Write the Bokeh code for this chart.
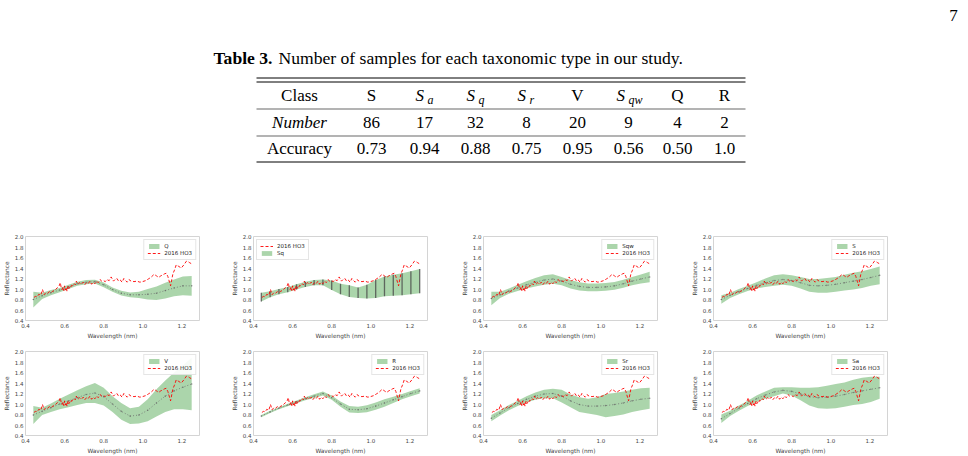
from bokeh.plotting import figure
from bokeh.layouts import column, row
from bokeh.models import Range1d, FixedTicker, PrintfTickFormatter, Legend, LegendItem
from bokeh.core.properties import value
from bokeh.embed import file_html
from bokeh.resources import INLINE

# ---------------- table data ----------------
CLASSES = ["S", "Sa", "Sq", "Sr", "V", "Sqw", "Q", "R"]
NUMBERS = [86, 17, 32, 8, 20, 9, 4, 2]
ACCURACY = [0.73, 0.94, 0.88, 0.75, 0.95, 0.56, 0.50, 1.0]
ACCURACY_LABELS = ["0.73", "0.94", "0.88", "0.75", "0.95", "0.56", "0.50", "1.0"]

# ---------------- spectra data ----------------
WL = [0.44, 0.485, 0.53, 0.575, 0.62, 0.665, 0.71, 0.755, 0.80, 0.845,
      0.89, 0.935, 0.98, 1.025, 1.07, 1.115, 1.16, 1.205, 1.25]

Q_MEAN = [0.80, 0.87, 0.93, 0.98, 1.04, 1.10, 1.13, 1.14, 1.08, 0.99, 0.92, 0.89, 0.89, 0.90, 0.92, 0.97, 1.02, 1.06, 1.06]
Q_STD = [0.15, 0.06, 0.05, 0.04, 0.04, 0.04, 0.04, 0.035, 0.045, 0.04, 0.045, 0.045, 0.06, 0.10, 0.13, 0.15, 0.16, 0.18, 0.19]

SQ_MEAN = [0.845, 0.90, 0.95, 0.99, 1.04, 1.09, 1.12, 1.125, 1.07, 1.00, 0.96, 0.93, 0.95, 1.00, 1.05, 1.07, 1.09, 1.12, 1.15]
SQ_STD = [0.085, 0.055, 0.05, 0.05, 0.05, 0.05, 0.05, 0.055, 0.09, 0.10, 0.11, 0.10, 0.13, 0.17, 0.19, 0.20, 0.21, 0.22, 0.23]

SQW_MEAN = [0.82, 0.89, 0.96, 1.02, 1.08, 1.13, 1.17, 1.19, 1.15, 1.09, 1.05, 1.03, 1.03, 1.04, 1.06, 1.10, 1.15, 1.19, 1.23]
SQW_STD = [0.13, 0.06, 0.05, 0.06, 0.07, 0.08, 0.09, 0.09, 0.08, 0.08, 0.08, 0.075, 0.075, 0.075, 0.075, 0.075, 0.08, 0.085, 0.10]

S_MEAN = [0.80, 0.88, 0.95, 1.01, 1.07, 1.12, 1.16, 1.18, 1.16, 1.12, 1.07, 1.06, 1.07, 1.09, 1.12, 1.15, 1.18, 1.22, 1.26]
S_STD = [0.08, 0.05, 0.05, 0.05, 0.06, 0.08, 0.10, 0.10, 0.10, 0.11, 0.12, 0.13, 0.14, 0.14, 0.15, 0.16, 0.16, 0.16, 0.17]

V_MEAN = [0.79, 0.86, 0.93, 1.00, 1.06, 1.12, 1.18, 1.21, 1.14, 1.00, 0.86, 0.77, 0.79, 0.88, 1.02, 1.15, 1.25, 1.32, 1.38]
V_STD = [0.17, 0.07, 0.08, 0.10, 0.12, 0.14, 0.16, 0.19, 0.17, 0.15, 0.16, 0.15, 0.16, 0.21, 0.26, 0.30, 0.35, 0.42, 0.50]

R_MEAN = [0.77, 0.85, 0.92, 0.98, 1.04, 1.10, 1.15, 1.20, 1.12, 1.00, 0.90, 0.89, 0.91, 0.96, 1.02, 1.08, 1.14, 1.20, 1.25]
R_STD = [0.02, 0.02, 0.02, 0.025, 0.025, 0.03, 0.035, 0.04, 0.04, 0.05, 0.06, 0.06, 0.065, 0.07, 0.07, 0.06, 0.05, 0.05, 0.05]

SR_MEAN = [0.73, 0.83, 0.93, 1.01, 1.09, 1.15, 1.19, 1.20, 1.15, 1.06, 0.99, 0.96, 0.96, 0.97, 0.99, 1.02, 1.06, 1.09, 1.11]
SR_STD = [0.06, 0.05, 0.05, 0.05, 0.06, 0.07, 0.08, 0.09, 0.12, 0.12, 0.14, 0.14, 0.17, 0.22, 0.22, 0.22, 0.21, 0.21, 0.20]

SA_MEAN = [0.72, 0.82, 0.92, 1.01, 1.10, 1.17, 1.23, 1.26, 1.24, 1.19, 1.14, 1.12, 1.13, 1.15, 1.18, 1.22, 1.25, 1.28, 1.31]
SA_STD = [0.08, 0.05, 0.05, 0.05, 0.06, 0.07, 0.08, 0.06, 0.08, 0.12, 0.17, 0.20, 0.22, 0.23, 0.23, 0.24, 0.25, 0.24, 0.21]

HO3_WL = [0.443, 0.452, 0.46, 0.468, 0.478, 0.487, 0.495, 0.504, 0.513, 0.522, 0.53, 0.54, 0.548,
          0.556, 0.565, 0.572, 0.578, 0.583, 0.587, 0.592, 0.596, 0.6, 0.604, 0.608, 0.612, 0.617,
          0.621, 0.625, 0.63, 0.636, 0.643, 0.65, 0.655, 0.66, 0.668, 0.677, 0.686, 0.695, 0.703,
          0.712, 0.72, 0.73, 0.738, 0.747, 0.755, 0.764, 0.772, 0.781, 0.79, 0.799, 0.808, 0.816,
          0.828, 0.838, 0.85, 0.858, 0.868, 0.876, 0.885, 0.894, 0.903, 0.912, 0.92, 0.929, 0.94,
          0.955, 0.97, 0.985, 0.998, 1.015, 1.028, 1.041, 1.058, 1.07, 1.081, 1.092, 1.102, 1.112,
          1.12, 1.128, 1.142, 1.154, 1.162, 1.171, 1.184, 1.197, 1.21, 1.223, 1.232, 1.24, 1.254]
HO3_R = [0.84, 0.86, 0.85, 0.90, 0.88, 0.99, 0.89, 0.93, 0.92, 0.95, 0.93, 0.96, 0.97,
         1.00, 1.03, 1.06, 1.12, 1.02, 0.99, 1.04, 0.97, 1.06, 0.98, 1.03, 0.96, 1.05,
         1.00, 1.04, 1.02, 1.07, 1.06, 1.10, 1.08, 1.15, 1.09, 1.12, 1.09, 1.13, 1.08,
         1.12, 1.10, 1.15, 1.09, 1.13, 1.10, 1.15, 1.12, 1.18, 1.15, 1.16, 1.14, 1.18,
         1.16, 1.23, 1.15, 1.18, 1.20, 1.15, 1.17, 1.13, 1.20, 1.16, 1.13, 1.18, 1.15,
         1.14, 1.15, 1.13, 1.14, 1.16, 1.19, 1.22, 1.28, 1.25, 1.22, 1.25, 1.27, 1.29,
         1.30, 1.24, 1.06, 1.29, 1.36, 1.46, 1.43, 1.40, 1.46, 1.53, 1.52, 1.50, 1.47]

X_TICKS = [0.4, 0.6, 0.8, 1.0, 1.2]
Y_TICKS = [0.4, 0.6, 0.8, 1.0, 1.2, 1.4, 1.6, 1.8, 2.0]

SERIF = "Liberation Serif"
SANS = "DejaVu Sans"

# ---------------- top part: page number, caption, table ----------------
TOP_H = 226
top = figure(width=968, height=TOP_H, x_range=Range1d(0, 968), y_range=Range1d(TOP_H, 0),
             output_backend="svg", toolbar_location=None, min_border=0,
             x_axis_location=None, y_axis_location=None)
top.grid.visible = False
top.outline_line_color = None

top.text(x=[953], y=[15], text=["7"], text_font=value(SERIF), text_font_size="17px",
         text_align="center", text_baseline="middle", text_color="black")

CAP_FS = "17.6px"
top.text(x=[213], y=[57], text=["Table 3."], text_font=value(SERIF), text_font_size=CAP_FS,
         text_font_style="bold", text_align="left", text_baseline="middle", text_color="black")
top.text(x=[278], y=[57], text=["Number of samples for each taxonomic type in our study."],
         text_font=value(SERIF), text_font_size=CAP_FS, text_align="left",
         text_baseline="middle", text_color="black")

T_LEFT, T_RIGHT = 256, 745
top.segment(x0=[T_LEFT, T_LEFT], y0=[77.5, 81.5], x1=[T_RIGHT, T_RIGHT], y1=[77.5, 81.5],
            line_color="black", line_width=1.0)
top.segment(x0=[T_LEFT, T_LEFT], y0=[108.5, 135.5], x1=[T_RIGHT, T_RIGHT], y1=[108.5, 135.5],
            line_color="black", line_width=0.6)
top.segment(x0=[T_LEFT], y0=[161.5], x1=[T_RIGHT], y1=[161.5], line_color="black", line_width=1.0)

LABEL_X = 299
COL_X = [371, 424, 475, 526, 577, 628, 677, 724]
ROW_Y = [95, 122, 148]
FS = "17px"

top.text(x=[LABEL_X], y=[ROW_Y[0]], text=["Class"], text_font=value(SERIF), text_font_size=FS,
         text_align="center", text_baseline="middle")
top.text(x=[LABEL_X], y=[ROW_Y[1]], text=["Number"], text_font=value(SERIF), text_font_size=FS,
         text_font_style="italic", text_align="center", text_baseline="middle")
top.text(x=[LABEL_X], y=[ROW_Y[2]], text=["Accuracy"], text_font=value(SERIF), text_font_size=FS,
         text_align="center", text_baseline="middle")

plain_x, plain_t = [], []
ital_x, ital_t = [], []
sub_x, sub_t = [], []
for cx, name in zip(COL_X, CLASSES):
    if len(name) == 1:
        plain_x.append(cx)
        plain_t.append(name)
    else:
        sub = name[1:]
        total = 10 + 2 + 6 * len(sub)
        start = cx - total / 2
        ital_x.append(start)
        ital_t.append(name[0])
        sub_x.append(start + 12)
        sub_t.append(sub)
top.text(x=plain_x, y=[ROW_Y[0]] * len(plain_x), text=plain_t, text_font=value(SERIF),
         text_font_size=FS, text_align="center", text_baseline="middle")
top.text(x=ital_x, y=[ROW_Y[0]] * len(ital_x), text=ital_t, text_font=value(SERIF),
         text_font_size=FS, text_font_style="italic", text_align="left", text_baseline="middle")
top.text(x=sub_x, y=[ROW_Y[0] + 4] * len(sub_x), text=sub_t, text_font=value(SERIF),
         text_font_size="12px", text_font_style="italic", text_align="left", text_baseline="middle")

top.text(x=COL_X, y=[ROW_Y[1]] * len(COL_X), text=[str(n) for n in NUMBERS], text_font=value(SERIF),
         text_font_size=FS, text_align="center", text_baseline="middle")
top.text(x=COL_X, y=[ROW_Y[2]] * len(COL_X), text=ACCURACY_LABELS, text_font=value(SERIF),
         text_font_size=FS, text_align="center", text_baseline="middle")


# ---------------- spectra panels ----------------
def make_panel(name, mean, std, width, ho3_first=False, errorbars=False, loc="top_right"):
    lo = [m - s for m, s in zip(mean, std)]
    hi = [m + s for m, s in zip(mean, std)]
    p = figure(width=width, height=115, x_range=Range1d(0.40, 1.29), y_range=Range1d(0.4, 2.0),
               output_backend="svg", toolbar_location=None,
               min_border_left=25, min_border_right=width - 25 - 174,
               min_border_top=10, min_border_bottom=19)
    p.grid.visible = False
    p.outline_line_color = "#d4d4d4"
    p.outline_line_width = 1
    p.background_fill_color = "white"

    band = p.varea(x=WL, y1=lo, y2=hi, fill_color="green", fill_alpha=0.33)
    if errorbars:
        p.segment(x0=WL, y0=lo, x1=WL, y1=hi, line_color="#4a4a4a", line_width=1.3, line_alpha=0.8)
    else:
        p.line(WL, mean, line_color="#707070", line_dash="1 2", line_width=1.0, line_alpha=0.8)
        p.scatter(WL, mean, size=1.6, fill_color="#606060", line_color=None, fill_alpha=0.7)
    ho3 = p.line(HO3_WL, HO3_R, line_color="red", line_dash="3 2", line_width=0.9)

    items = [LegendItem(label=name, renderers=[band]), LegendItem(label="2016 HO3", renderers=[ho3])]
    if ho3_first:
        items = items[::-1]
    legend = Legend(items=items, location=loc, label_text_font=SANS, label_text_font_size="5.5px",
                    label_text_color="#222222", glyph_width=13, glyph_height=6, label_height=6,
                    label_standoff=4, spacing=1, padding=3, margin=3,
                    border_line_color="#cccccc", border_line_width=0.8,
                    background_fill_color="white", background_fill_alpha=0.9)
    p.add_layout(legend)

    p.xaxis.ticker = FixedTicker(ticks=X_TICKS)
    p.yaxis.ticker = FixedTicker(ticks=Y_TICKS)
    p.xaxis.formatter = PrintfTickFormatter(format="%.1f")
    p.yaxis.formatter = PrintfTickFormatter(format="%.1f")
    p.xaxis.axis_label = "Wavelength (nm)"
    p.yaxis.axis_label = "Reflectance"
    for ax in (p.xaxis[0], p.yaxis[0]):
        ax.axis_line_color = None
        ax.major_tick_line_color = None
        ax.minor_tick_line_color = None
        ax.major_tick_out = 0
        ax.major_tick_in = 0
        ax.major_label_text_font = SANS
        ax.major_label_text_font_size = "5.5px"
        ax.major_label_text_color = "#444444"
        ax.major_label_standoff = 2
        ax.axis_label_text_font = SANS
        ax.axis_label_text_font_size = "5.8px"
        ax.axis_label_text_font_style = "normal"
        ax.axis_label_text_color = "#444444"
        ax.axis_label_standoff = 2
    return p


p1 = make_panel("Q", Q_MEAN, Q_STD, 228)
p2 = make_panel("Sq", SQ_MEAN, SQ_STD, 230, ho3_first=True, errorbars=True, loc="top_left")
p3 = make_panel("Sqw", SQW_MEAN, SQW_STD, 230)
p4 = make_panel("S", S_MEAN, S_STD, 230)
p5 = make_panel("V", V_MEAN, V_STD, 228)
p6 = make_panel("R", R_MEAN, R_STD, 230)
p7 = make_panel("Sr", SR_MEAN, SR_STD, 230)
p8 = make_panel("Sa", SA_MEAN, SA_STD, 230)

layout = column(top, row(p1, p2, p3, p4), row(p5, p6, p7, p8))

open("out.html", "w").write(file_html(layout, INLINE))
